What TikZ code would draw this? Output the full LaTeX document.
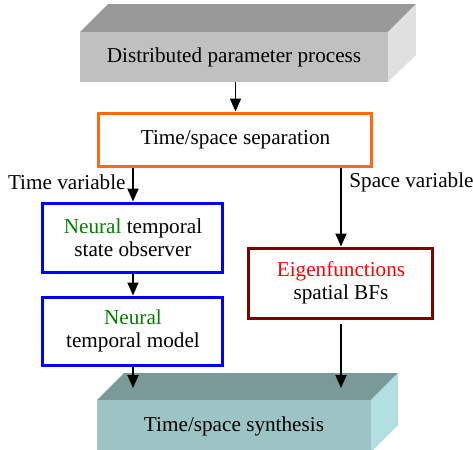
\documentclass[tikz,border=0pt]{standalone}
\usepackage{fontspec}
\setmainfont{Liberation Serif}
\usetikzlibrary{arrows.meta,calc}
\definecolor{grtop}{HTML}{999999}
\definecolor{grfront}{HTML}{C0C0C0}
\definecolor{grside}{HTML}{E0E0E0}
\definecolor{cytop}{HTML}{7A9A98}
\definecolor{cyfront}{HTML}{9CC4C4}
\definecolor{cyside}{HTML}{B2E0E0}
\definecolor{orangeline}{HTML}{FF6A10}
\definecolor{darkred}{HTML}{800000}
\definecolor{neuralgreen}{HTML}{008000}
\tikzset{
  txt/.style={font=\fontsize{10.6}{11.7}\selectfont, align=center, inner sep=0pt},
  frontface/.style={txt, minimum width=#1, minimum height=25pt},
  flowbox/.style={txt, draw=#1, line width=1.5pt, fill=white},
  arr/.style={line width=0.9pt, -{Triangle[length=6.5pt,width=5.5pt]}},
}
\begin{document}
\begin{tikzpicture}[x=0.5pt,y=-0.5pt]
\useasboundingbox (0,0) rectangle (473,450);
% top 3D box
\fill[grtop] (80,32) -- (108,4) -- (416,4) -- (388,32) -- cycle;
\fill[grside] (388,32) -- (416,4) -- (416,55) -- (388,82) -- cycle;
\node[frontface=154pt, fill=grfront] (proc) at (234,57) {Distributed parameter process};
% bottom 3D box
\fill[cytop] (97,400) -- (124,373) -- (398,373) -- (371,400) -- cycle;
\fill[cyside] (371,400) -- (398,373) -- (398,425) -- (371,452) -- cycle;
\node[frontface=137pt, minimum height=26pt, fill=cyfront] (syn) at (234,426) {Time/space synthesis};
% flow boxes
\node[flowbox=orangeline, minimum width=136.5pt, minimum height=26.5pt] (sep) at (235.5,139.5) {Time/space separation};
\node[flowbox=blue, minimum width=90pt, minimum height=34.5pt] (obs) at (133,237.5) {\textcolor{neuralgreen}{Neural} temporal\\state observer};
\node[flowbox=blue, minimum width=90pt, minimum height=34pt] (mod) at (133,331) {\textcolor{neuralgreen}{Neural}\\temporal model};
\node[flowbox=darkred, minimum width=92pt, minimum height=35pt] (eig) at (341,283) {\textcolor{red}{Eigenfunctions}\\spatial BFs};
\coordinate (synL) at (133,388);
\coordinate (synR) at (341,388);
% labels
\node[txt, anchor=east] (tv) at (126,182) {Time variable};
\node[txt, anchor=west] (sv) at (349,182) {Space variable};
% connectors
\draw[arr] (proc.south -| sep.north) -- (sep.north);
\draw[arr] (sep.south -| obs.north) -- (obs.north);
\draw[arr] (sep.south -| eig.north) -- (eig.north);
\draw[arr] (obs.south) -- (mod.north);
\draw[arr] (mod.south) -- (synL);
\draw[arr] ($(eig.south)+(0,4)$) -- (synR);
\end{tikzpicture}
\end{document}
